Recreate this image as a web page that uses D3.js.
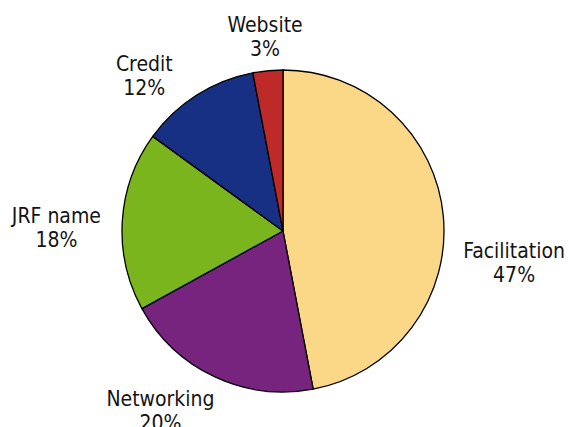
<!DOCTYPE html>
<html><head><meta charset="utf-8">
<script src="https://cdn.jsdelivr.net/npm/d3@7"></script>
<style>body{margin:0;background:#fff}svg{display:block}text{font-family:"DejaVu Sans Condensed","DejaVu Sans",sans-serif;font-stretch:condensed;font-size:21px;fill:#141414}</style>
</head><body><svg width="569" height="427"></svg>
<script>
const categories = ["Facilitation","Networking","JRF name","Credit","Website"];
const values = [47,20,18,12,3];
const colors = ["#FBD887","#77247E","#7AB51D","#183084","#BE2A27"];

const cx = 283, cy = 231, R = 161;
const svg = d3.select("svg");
const g = svg.append("g").attr("transform",`translate(${cx},${cy})`);
const pie = d3.pie().sort(null).value(d=>d.v);
const data = pie(categories.map((c,i)=>({c, v:values[i], col:colors[i]})));
const arc = d3.arc().innerRadius(0).outerRadius(R);
g.selectAll("path").data(data).enter().append("path")
  .attr("d",arc).attr("fill",d=>d.data.col)
  .attr("stroke","#000").attr("stroke-width",1.3).attr("stroke-linejoin","round");

// label placement: base point on an outer arc, plus a layout nudge per label
const labelArc = d3.arc().innerRadius(201).outerRadius(201);
const nudge = [[31,51],[-37,-2],[-26,10],[-31,15],[1,6]];
data.forEach((d,i)=>{
  const [bx,by] = labelArc.centroid(d);
  const x = bx + nudge[i][0], y = by + nudge[i][1];
  const t = g.append("text").attr("text-anchor","middle");
  t.append("tspan").attr("x",x).attr("y",y-5).text(d.data.c);
  t.append("tspan").attr("x",x).attr("y",y+19).text(d.data.v + "%");
});
</script></body></html>
